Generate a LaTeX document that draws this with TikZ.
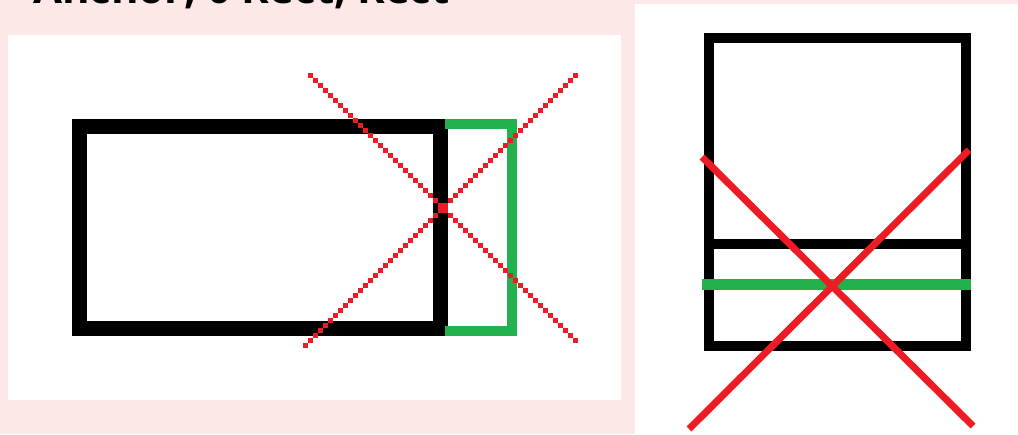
\documentclass[tikz,border=0pt]{standalone}
\usepackage{fontspec}
\newfontfamily\titlefont{Open Sans}
\definecolor{bgpink}{HTML}{FCE8E6}
\definecolor{pred}{HTML}{ED1C24}
\definecolor{pgreen}{HTML}{22B14C}
\tikzset{
  blackframe/.style={draw=black, line width=#1, line join=miter},
  greenbar/.style={draw=pgreen, line width=#1, line join=miter},
  redline/.style={draw=pred, line width=7pt},
  reddot/.style={fill=pred},
}
\begin{document}
\begin{tikzpicture}[x=1pt,y=-1pt]
\useasboundingbox (0,0) rectangle (1018,434);
\clip (0,0) rectangle (1018,434);
% backgrounds
\fill[bgpink] (0,0) rectangle (1018,434);
\fill[white] (8,35) rectangle (621,400);
\fill[white] (635,4) rectangle (1018,434);
% title (cut off at top)
\node[anchor=base west, inner sep=0, font=\titlefont\bfseries\fontsize{42}{46}\selectfont] (title) at (33,3) {Anchor, 0 Rect, Rect};
% left panel
\path[blackframe=15pt] (79.5,126.5) rectangle (440.5,328.5);
\path[greenbar=10pt] (445,124) -- (512,124) -- (512,331) -- (445,331);
\foreach \k in {-26,...,27} {
  \fill[reddot] ({438+5*\k},{203+5*\k}) rectangle +(5,5);
}
\foreach \k in {-28,...,26} {
  \fill[reddot] ({443+5*\k},{203-5*\k}) rectangle +(5,5);
}
\fill[reddot] (438,203) rectangle (448,213);
% right panel
\path[blackframe=10pt] (709,38) rectangle (966,346);
\path[blackframe=10pt] (709,244) -- (966,244);
\path[greenbar=11pt] (702,284) -- (971,284);
\path[redline] (702,157) -- (973,426);
\path[redline] (969,150) -- (689,429);
\end{tikzpicture}
\end{document}
